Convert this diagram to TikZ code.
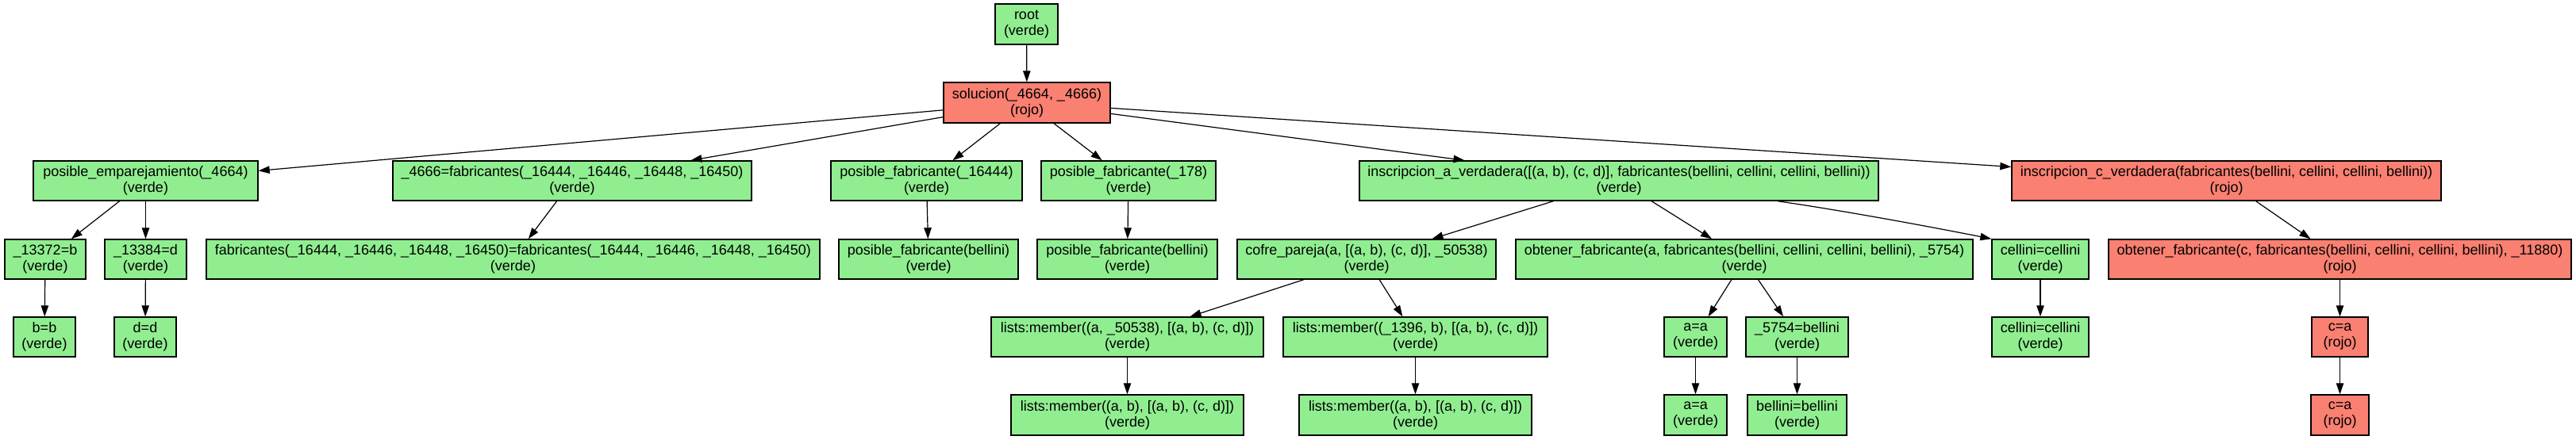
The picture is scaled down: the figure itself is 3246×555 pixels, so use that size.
\documentclass[tikz,border=0pt]{standalone}
\usepackage{fontspec}
\setmainfont{Liberation Sans}
\usetikzlibrary{arrows.meta}
\definecolor{lightgreenc}{HTML}{90EE90}
\definecolor{salmonc}{HTML}{FA8072}
\tikzset{
  box/.style={draw=black, line width=0.7pt, inner sep=0pt, align=center,
    font=\fontsize{9}{10}\selectfont, minimum height=25pt},
  gn/.style={box, fill=lightgreenc},
  rn/.style={box, fill=salmonc},
  arr/.style={-{Triangle[length=7pt,width=4.7pt]}, line width=0.6pt},
}
\begin{document}
\begin{tikzpicture}[x=0.5pt,y=-0.5pt]
\fill[white] (0,0) rectangle (3246,555);
\useasboundingbox (0,0) rectangle (3246,555);
% row 0-1
\node[gn, minimum width=39.5pt, minimum height=25.5pt] (root) at (1293.5,30.5) {root\\(verde)};
\node[rn, minimum width=105pt, minimum height=25.5pt] (sol) at (1294,129.5) {solucion(\_4664, \_4666)\\(rojo)};
% row 2
\node[gn, minimum width=141.5pt] (pe) at (183.5,228) {posible\_emparejamiento(\_4664)\\(verde)};
\node[gn, minimum width=226pt] (f4666) at (721,228) {\_4666=fabricantes(\_16444, \_16446, \_16448, \_16450)\\(verde)};
\node[gn, minimum width=120.5pt] (pf16444) at (1167.5,228) {posible\_fabricante(\_16444)\\(verde)};
\node[gn, minimum width=110pt] (pf178) at (1422,228) {posible\_fabricante(\_178)\\(verde)};
\node[gn, minimum width=327pt] (inscA) at (2040,228) {inscripcion\_a\_verdadera([(a, b), (c, d)], fabricantes(bellini, cellini, cellini, bellini))\\(verde)};
\node[rn, minimum width=270.5pt] (inscC) at (2805.5,228) {inscripcion\_c\_verdadera(fabricantes(bellini, cellini, cellini, bellini))\\(rojo)};
% row 3
\node[gn, minimum width=51pt] (b13372) at (57,327) {\_13372=b\\(verde)};
\node[gn, minimum width=51.5pt] (d13384) at (183.5,327) {\_13384=d\\(verde)};
\node[gn, minimum width=386.5pt] (feq) at (646.5,327) {fabricantes(\_16444, \_16446, \_16448, \_16450)=fabricantes(\_16444, \_16446, \_16448, \_16450)\\(verde)};
\node[gn, minimum width=113pt] (pfb1) at (1170,327) {posible\_fabricante(bellini)\\(verde)};
\node[gn, minimum width=113.5pt] (pfb2) at (1420.5,327) {posible\_fabricante(bellini)\\(verde)};
\node[gn, minimum width=163pt] (cofre) at (1722,327) {cofre\_pareja(a, [(a, b), (c, d)], \_50538)\\(verde)};
\node[gn, minimum width=288pt] (obtA) at (2198,327) {obtener\_fabricante(a, fabricantes(bellini, cellini, cellini, bellini), \_5754)\\(verde)};
\node[gn, minimum width=61pt] (cel1) at (2571,327) {cellini=cellini\\(verde)};
\node[rn, minimum width=291.5pt] (obtC) at (2948.5,327) {obtener\_fabricante(c, fabricantes(bellini, cellini, cellini, bellini), \_11880)\\(rojo)};
% row 4
\node[gn, minimum width=39pt] (bb) at (56,425) {b=b\\(verde)};
\node[gn, minimum width=39pt] (dd) at (183,425) {d=d\\(verde)};
\node[gn, minimum width=171.5pt] (lm1) at (1420.5,425) {lists:member((a, \_50538), [(a, b), (c, d)])\\(verde)};
\node[gn, minimum width=166.5pt] (lm2) at (1783.5,425) {lists:member((\_1396, b), [(a, b), (c, d)])\\(verde)};
\node[gn, minimum width=39.5pt] (aa1) at (2136.5,425) {a=a\\(verde)};
\node[gn, minimum width=64.5pt] (b5754) at (2264.5,425) {\_5754=bellini\\(verde)};
\node[gn, minimum width=61pt] (cel2) at (2571,425) {cellini=cellini\\(verde)};
\node[rn, minimum width=35.5pt] (ca1) at (2948.5,425) {c=a\\(rojo)};
% row 5
\node[gn, minimum width=146.5pt, minimum height=25.5pt] (lm3) at (1420.5,523.5) {lists:member((a, b), [(a, b), (c, d)])\\(verde)};
\node[gn, minimum width=146.5pt, minimum height=25.5pt] (lm4) at (1783.5,523.5) {lists:member((a, b), [(a, b), (c, d)])\\(verde)};
\node[gn, minimum width=39.5pt, minimum height=25.5pt] (aa2) at (2136.5,523.5) {a=a\\(verde)};
\node[gn, minimum width=62.5pt, minimum height=25.5pt] (bel) at (2264.5,523.5) {bellini=bellini\\(verde)};
\node[rn, minimum width=36.5pt, minimum height=25.5pt] (ca2) at (2948.5,523.5) {c=a\\(rojo)};
% edges
\draw[arr] (root) -- (sol);
\draw[arr] (sol) -- (pe);
\draw[arr] (sol) -- (f4666);
\draw[arr] (sol) -- (pf16444);
\draw[arr] (sol) -- (pf178);
\draw[arr] (sol) -- (inscA);
\draw[arr] (sol) -- (inscC);
\draw[arr] (pe) -- (b13372);
\draw[arr] (pe) -- (d13384);
\draw[arr] (b13372) -- (bb);
\draw[arr] (d13384) -- (dd);
\draw[arr] (f4666) -- (feq);
\draw[arr] (pf16444) -- (pfb1);
\draw[arr] (pf178) -- (pfb2);
\draw[arr] (inscA) -- (cofre);
\draw[arr] (inscA) -- (obtA);
\draw[arr] ([xshift=100pt]inscA.south) .. controls +(90,13) and +(-60,-12) .. (cel1.north west);
\draw[arr] (inscC) -- (obtC);
\draw[arr] (cofre) -- (lm1);
\draw[arr] (cofre) -- (lm2);
\draw[arr] (lm1) -- (lm3);
\draw[arr] (lm2) -- (lm4);
\draw[arr] (obtA) -- (aa1);
\draw[arr] (obtA) -- (b5754);
\draw[arr] (aa1) -- (aa2);
\draw[arr] (b5754) -- (bel);
\draw[arr] (cel1) -- (cel2);
\draw[arr] (obtC) -- (ca1);
\draw[arr] (ca1) -- (ca2);
\end{tikzpicture}
\end{document}
